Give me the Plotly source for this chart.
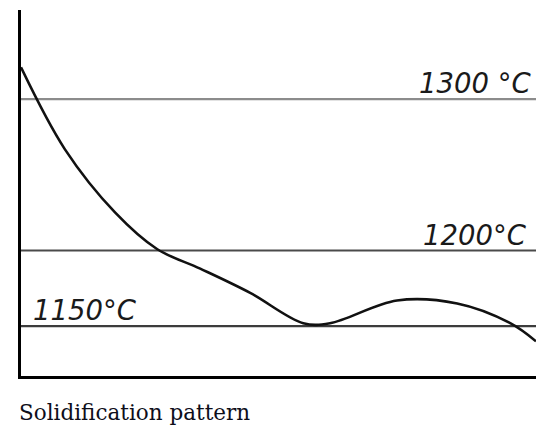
import plotly.graph_objects as go

# Cooling curve: elapsed time (arbitrary units) vs. temperature (°C)
time_units = [0, 8.5, 18.3, 26.4, 34.8, 44.5, 54.8, 60, 73, 84.7, 95, 100]
temperature_c = [1321, 1267, 1225, 1201, 1188, 1172, 1152, 1152, 1167,
                 1165, 1152, 1140]

# Reference temperatures and their labels
ref_temps = [1300, 1200, 1150]
ref_labels = ["1300 °C", "1200°C", "1150°C"]
ref_colors = ["#8c8c8c", "#4a4a4a", "#3c3c3c"]

caption = "Solidification pattern"

fig = go.Figure()

fig.add_trace(go.Scatter(
    x=time_units, y=temperature_c, mode="lines",
    line=dict(color="#111111", width=2.6, shape="spline", smoothing=1.0),
    hoverinfo="skip", showlegend=False,
))

for temp, col in zip(ref_temps, ref_colors):
    fig.add_shape(type="line", xref="paper", yref="y", x0=0, x1=1,
                  y0=temp, y1=temp, line=dict(color=col, width=2.2),
                  layer="below")

label_font = dict(family="DejaVu Sans", size=27.5, color="#1a1a1a",
                  style="italic")
# label placement: (paper x, anchor, horizontal shift)
label_pos = [(1.0, "right", -3), (1.0, "right", -7), (0.0233, "left", -2)]
for temp, text, (px, anchor, dx) in zip(ref_temps, ref_labels, label_pos):
    fig.add_annotation(x=px, y=temp, xref="paper", yref="y", text=text,
                       showarrow=False, xanchor=anchor, yanchor="bottom",
                       xshift=dx, yshift=-2, font=label_font)

fig.add_annotation(x=0, y=0, xref="paper", yref="paper", text=caption,
                   showarrow=False, xanchor="left", yanchor="middle",
                   xshift=-4, yshift=-36,
                   font=dict(family="DejaVu Serif", size=21.5, color="#0e0e1a"))

fig.update_xaxes(range=[0, 100], showline=True, linecolor="#000000",
                 linewidth=3, showgrid=False, zeroline=False,
                 showticklabels=False, ticks="")
fig.update_yaxes(range=[1117.1, 1358.9], showline=True, linecolor="#000000",
                 linewidth=3, showgrid=False, zeroline=False,
                 showticklabels=False, ticks="")

fig.update_layout(
    width=536, height=428,
    margin=dict(l=21, r=0, t=10, b=52),
    paper_bgcolor="#ffffff", plot_bgcolor="#ffffff",
)

fig.write_html("out.html")
